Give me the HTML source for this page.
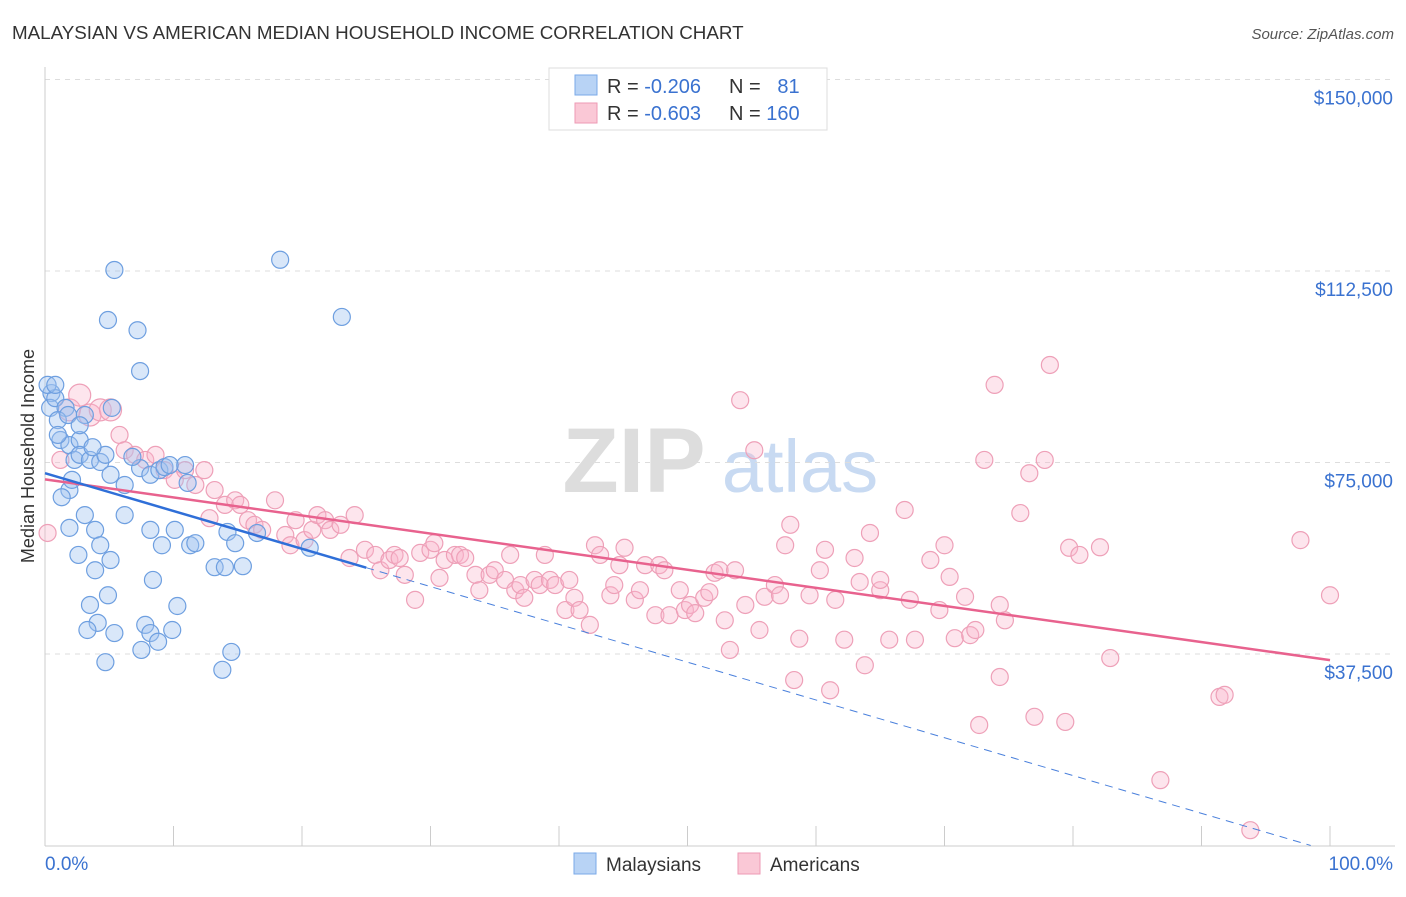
<!DOCTYPE html>
<html><head><meta charset="utf-8"><style>
body{margin:0;background:#fff;font-family:"Liberation Sans",sans-serif;}
svg text{font-family:"Liberation Sans",sans-serif;}
</style></head><body>
<svg id="chart" width="1406" height="892" xmlns="http://www.w3.org/2000/svg">
<text x="12" y="39" font-size="18.8" fill="#333">MALAYSIAN VS AMERICAN MEDIAN HOUSEHOLD INCOME CORRELATION CHART</text>
<text x="1394" y="39" font-size="15" fill="#555" font-style="italic" text-anchor="end">Source: ZipAtlas.com</text>
<g>
<text x="634" y="492" font-size="92" fill="#ddd" font-family="Liberation Serif" text-anchor="middle" font-weight="bold">ZIP</text>
<text x="800" y="492" font-size="74" fill="#c8daf2" text-anchor="middle">atlas</text>
</g>
<g id="grid"></g>
<g id="axes"></g>
<g id="marks"></g>
<text x="34" y="456" font-size="18" fill="#333" text-anchor="middle" transform="rotate(-90 34 456)">Median Household Income</text>
<g>
<rect x="549" y="68" width="278" height="62" fill="#fff" stroke="#ddd"/>
<rect x="575" y="75" width="22" height="20" fill="#b8d3f5" stroke="#7aaae8"/>
<rect x="575" y="103" width="22" height="20" fill="#fac8d6" stroke="#ee9ab4"/>
<text x="607" y="93" font-size="20" fill="#333">R = <tspan fill="#3a72d0">-0.206</tspan></text>
<text x="729" y="93" font-size="20" fill="#333">N = <tspan fill="#3a72d0">&#160;&#160;81</tspan></text>
<text x="607" y="120" font-size="20" fill="#333">R = <tspan fill="#3a72d0">-0.603</tspan></text>
<text x="729" y="120" font-size="20" fill="#333">N = <tspan fill="#3a72d0">160</tspan></text>
</g>
<g>
<rect x="574" y="853" width="22" height="21" fill="#b8d3f5" stroke="#7aaae8"/>
<text x="606" y="871" font-size="19" fill="#333">Malaysians</text>
<rect x="738" y="853" width="22" height="21" fill="#fac8d6" stroke="#ee9ab4"/>
<text x="770" y="871" font-size="19" fill="#333">Americans</text>
</g>
</svg>
<script>
const yTicks=[37500,75000,112500,150000];
const yTickLabels=["$37,500","$75,000","$112,500","$150,000"];
const xTickLabels=["0.0%","100.0%"];
const blueX=[0.5,0.4,0.8,1.2,1.6,1.0,1.9,2.3,2.7,3.1,1.9,1.3,2.1,2.7,3.5,4.3,4.7,5.2,5.4,4.9,7.2,7.4,5.1,6.2,7.4,8.2,8.9,9.3,10.9,11.1,6.2,8.2,10.1,9.1,11.3,11.7,1.9,3.1,3.9,4.3,2.6,3.9,5.1,3.5,4.9,4.1,3.3,5.4,4.7,7.8,8.2,7.5,8.8,9.9,10.3,8.4,13.2,14.0,15.4,16.5,14.2,18.3,23.1,20.6,13.8,14.5,0.2,0.8,1.8,2.7,1.0,3.7,6.8,14.8,9.7];
const blueY=[88.6,85.7,87.6,79.4,85.7,83.3,78.4,75.5,79.4,84.3,69.6,68.2,71.6,76.5,75.5,75.1,76.5,85.7,112.7,102.9,100.9,92.9,72.6,70.6,73.9,72.6,73.5,74.1,74.5,71.0,64.7,61.8,61.8,58.8,58.8,59.2,62.2,64.7,61.8,58.8,56.9,53.9,55.9,47.1,49.0,43.6,42.2,41.6,35.9,43.2,41.6,38.3,39.9,42.2,46.9,52.0,54.5,54.5,54.7,61.2,61.4,114.7,103.5,58.3,34.4,37.9,90.2,90.2,84.3,82.3,80.4,78.0,76.1,59.2,74.5];
const pinkX=[0.2,1.2,1.9,2.7,3.5,4.3,5.1,5.8,6.2,7.0,7.8,8.6,9.3,10.1,10.9,11.7,12.4,12.8,13.2,14.0,14.8,15.2,15.8,16.3,16.9,17.9,18.7,19.1,19.5,20.2,20.8,21.2,21.8,22.2,23.0,23.7,24.1,24.9,25.7,26.1,26.8,27.2,27.6,28.0,28.8,29.2,30.0,30.3,30.7,31.1,31.9,32.3,32.7,33.5,33.8,34.6,35.0,35.8,36.2,36.6,37.0,37.3,38.1,38.5,38.9,39.3,39.7,40.5,40.8,41.2,41.6,42.4,42.8,43.2,44.0,44.3,44.7,45.1,45.9,46.3,46.7,47.5,47.8,48.2,48.6,49.4,49.8,50.2,50.6,51.3,51.7,52.1,52.5,52.9,53.3,53.7,54.1,54.5,55.2,55.6,56.0,56.8,57.2,57.6,58.0,58.3,58.7,59.5,60.3,60.7,61.1,61.5,62.2,63.0,63.4,63.8,64.2,65.0,65.7,66.9,67.3,67.7,68.9,69.6,70.0,70.8,71.6,72.0,72.4,72.7,73.1,73.9,74.3,74.7,75.9,76.6,77.0,77.8,78.2,79.4,79.7,80.5,82.1,82.9,86.8,91.4,91.8,93.8,97.7,100.0,74.3,70.4,65.0];
const pinkY=[61.2,75.5,85.3,88.2,84.3,85.3,85.3,80.4,77.4,76.5,75.5,76.5,73.5,71.6,73.5,70.6,73.5,64.1,69.6,66.7,67.6,66.7,63.7,62.8,61.8,67.6,60.8,58.8,63.7,59.8,61.8,64.7,63.7,61.8,62.8,56.3,64.7,57.9,56.9,53.9,55.9,56.9,56.3,53.0,48.1,57.3,57.9,59.2,52.4,55.9,56.9,56.9,56.3,53.0,50.0,53.0,53.9,52.0,56.9,50.0,51.0,48.5,52.0,51.0,56.9,52.0,51.0,46.1,52.0,48.5,46.1,43.2,58.8,56.9,49.0,51.0,54.9,58.3,48.1,50.0,54.9,45.1,54.9,53.9,45.1,50.0,46.1,47.1,45.5,48.5,49.6,53.4,53.9,44.1,38.3,53.9,87.2,47.1,77.4,42.2,48.7,51.0,49.0,58.8,62.8,32.4,40.5,49.0,53.9,57.9,30.4,48.1,40.3,56.3,51.6,35.3,61.2,50.0,40.3,65.7,48.1,40.3,55.9,46.1,58.8,40.6,48.7,41.2,42.2,23.6,75.5,90.2,33.0,44.1,65.1,72.9,25.2,75.5,94.1,24.2,58.3,56.9,58.4,36.7,12.8,29.1,29.5,3.0,59.8,49.0,47.1,52.6,52.0];
const blueTrend=[72.9,-0.74];
const pinkTrend=[71.7,-0.354];

const NS="http://www.w3.org/2000/svg";
const X0=45,X1=1330,YB=845.5,PXK=191.5/37.5;
const sx=v=>X0+(X1-X0)*v/100;
const sy=k=>YB-k*PXK;
function mk(tag,attrs,parent){const e=document.createElementNS(NS,tag);for(const k in attrs)e.setAttribute(k,attrs[k]);parent.appendChild(e);return e;}
const grid=document.getElementById('grid'),axes=document.getElementById('axes'),marks=document.getElementById('marks');
yTicks.forEach((t,i)=>{
 const y=sy(t/1000);
 const l=mk('line',{x1:45,x2:1395,y1:y,y2:y,stroke:'#ddd','stroke-dasharray':'5,5'},grid);
 
 
 const tx=mk('text',{x:1393,y:y+25,'font-size':19,fill:'#3a72d0','text-anchor':'end'},axes);
 tx.textContent=yTickLabels[i];
 
 
});
const ax=mk('line',{x1:45,x2:45,y1:67,y2:846,stroke:'#ccc'},axes);


const bx=mk('line',{x1:45,x2:1395,y1:846,y2:846,stroke:'#ccc'},axes);


for(let i=0;i<=10;i++){
 const x=sx(i*10);
 const t=mk('line',{x1:x,x2:x,y1:826,y2:846,stroke:'#ccc'},axes);
 
 
}
[[0,'start',45],[1,'end',1393]].forEach(([i,a,x])=>{
 const t=mk('text',{x:x,y:870,'font-size':19,fill:'#3a72d0','text-anchor':a},axes);
 t.textContent=xTickLabels[i];
 
 
});
pinkX.forEach((v,i)=>{
 const c=mk('circle',{cx:sx(v),cy:sy(pinkY[i]),r:(i>=2&&i<=6)?11:8.5,fill:'rgba(248,180,202,0.35)',stroke:'#eea0b8','stroke-width':1.2},marks);
 
 
});
blueX.forEach((v,i)=>{
 const c=mk('circle',{cx:sx(v),cy:sy(blueY[i]),r:8.5,fill:'rgba(160,195,240,0.4)',stroke:'#6e9fe0','stroke-width':1.2},marks);
 
 
});
const pt=mk('line',{x1:sx(0),y1:sy(pinkTrend[0]),x2:sx(100),y2:sy(pinkTrend[0]+pinkTrend[1]*100),stroke:'#e8628e','stroke-width':2.5},marks);


const bs=mk('line',{x1:sx(0),y1:sy(blueTrend[0]),x2:sx(25),y2:sy(blueTrend[0]+blueTrend[1]*25),stroke:'#2f6fd8','stroke-width':2.5},marks);


const bd=mk('line',{x1:sx(25),y1:sy(blueTrend[0]+blueTrend[1]*25),x2:sx(98.5),y2:sy(blueTrend[0]+blueTrend[1]*98.5),stroke:'#4a80dc','stroke-width':1,'stroke-dasharray':'8,6'},marks);


</script>
</body></html>
